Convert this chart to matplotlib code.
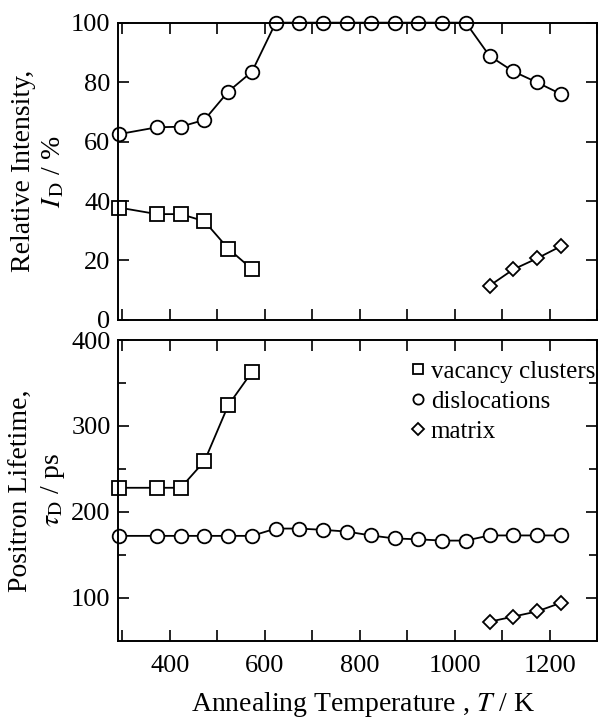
import matplotlib
matplotlib.use("Agg")
import matplotlib.pyplot as plt


# annealing temperatures (K)
temps = [293, 373, 423, 473, 523, 573, 623, 673, 723, 773,
         823, 873, 923, 973, 1023, 1073, 1123, 1173, 1223]
temps_vac = temps[:6]
temps_matrix = temps[15:]

# relative intensity (%)
int_disloc = [62.5, 64.8, 65.0, 67.3, 76.8, 83.5, 100, 100, 100, 100,
              100, 100, 100, 100, 100, 88.8, 83.6, 79.9, 76.0]
int_vac = [37.8, 35.6, 35.6, 33.2, 24.0, 17.1]
int_matrix = [11.5, 17.0, 20.7, 24.8]

# positron lifetime (ps)
tau_disloc = [172, 172, 172, 172, 172, 172, 180.5, 180.5, 179, 177,
              172.5, 169, 168, 166.5, 166.5, 172.5, 172.5, 172.5, 172.5]
tau_vac = [228, 228, 228, 259, 324, 363]
tau_matrix = [72, 78, 84, 94]

labels = ["vacancy clusters", "dislocations", "matrix"]

x_ticks = [300, 400, 500, 600, 700, 800, 900, 1000, 1100, 1200, 1300]
x_ticklabels = ["", "400", "", "600", "", "800", "", "1000", "", "1200", ""]
int_ticks = [0, 20, 40, 60, 80, 100]
tau_ticks = [100, 200, 300, 400]
tau_minor = [150, 250, 350]

plt.rcParams["font.family"] = ["Liberation Serif", "DejaVu Serif"]
plt.rcParams["mathtext.fontset"] = "stix"


def style_axis(ax):
    ax.tick_params(which="both", direction="in", top=True, right=True,
                   width=1.2, labelsize=19, pad=5)
    ax.tick_params(axis="x", pad=10)
    ax.tick_params(which="major", length=8)
    ax.tick_params(which="minor", length=6)
    for sp in ax.spines.values():
        sp.set_linewidth(1.4)
    ax.set_xlim(290, 1300)
    ax.set_xticks(x_ticks)


def draw_series(ax, x, y, marker, ms, label=None):
    ax.plot(x, y, color="black", lw=1.3, marker=marker, ms=ms,
            mfc="white", mec="black", mew=1.3, label=label, clip_on=False)


fig = plt.figure(figsize=(5.98, 7.19), dpi=100)
ax_top = fig.add_axes([0.1965, 0.555, 0.8025, 0.4135])
ax_bot = fig.add_axes([0.1965, 0.109, 0.8025, 0.418])

# top: relative intensity
style_axis(ax_top)
draw_series(ax_top, temps_vac, int_vac, "s", 9.5)
draw_series(ax_top, temps, int_disloc, "o", 9.8)
draw_series(ax_top, temps_matrix, int_matrix, "D", 7.5)
ax_top.set_ylim(0, 100)
ax_top.set_yticks(int_ticks)
ax_top.set_xticklabels([])
ax_top.text(-0.165, 0.5, "Relative Intensity,\n$I_{\\,\\mathrm{D}}$ / %",
            transform=ax_top.transAxes, rotation=90, ha="center",
            va="center", fontsize=20, linespacing=1.25)

# bottom: positron lifetime
style_axis(ax_bot)
draw_series(ax_bot, temps_vac, tau_vac, "s", 9.5, labels[0])
draw_series(ax_bot, temps, tau_disloc, "o", 9.8, labels[1])
draw_series(ax_bot, temps_matrix, tau_matrix, "D", 7.5, labels[2])
ax_bot.set_ylim(50, 400)
ax_bot.set_yticks(tau_ticks)
ax_bot.set_yticks(tau_minor, minor=True)
ax_bot.set_xticklabels(x_ticklabels)
ax_bot.text(-0.165, 0.5, "Positron Lifetime,\n$\\tau_{\\mathrm{D}}$ / ps",
            transform=ax_bot.transAxes, rotation=90, ha="center",
            va="center", fontsize=20, linespacing=1.25)
ax_bot.set_xlabel("Annealing Temperature , $T$ / K", fontsize=20)
ax_bot.xaxis.set_label_coords(0.511, -0.163)

leg = ax_bot.legend(loc="upper right", bbox_to_anchor=(1.006, 0.95),
                    frameon=False, fontsize=18, handlelength=0,
                    handletextpad=0.5, labelspacing=0.3, borderaxespad=0,
                    borderpad=0.2, markerscale=0.75)
for h in leg.get_lines():
    h.set_linestyle("none")

fig.savefig("out.png", dpi=100)
